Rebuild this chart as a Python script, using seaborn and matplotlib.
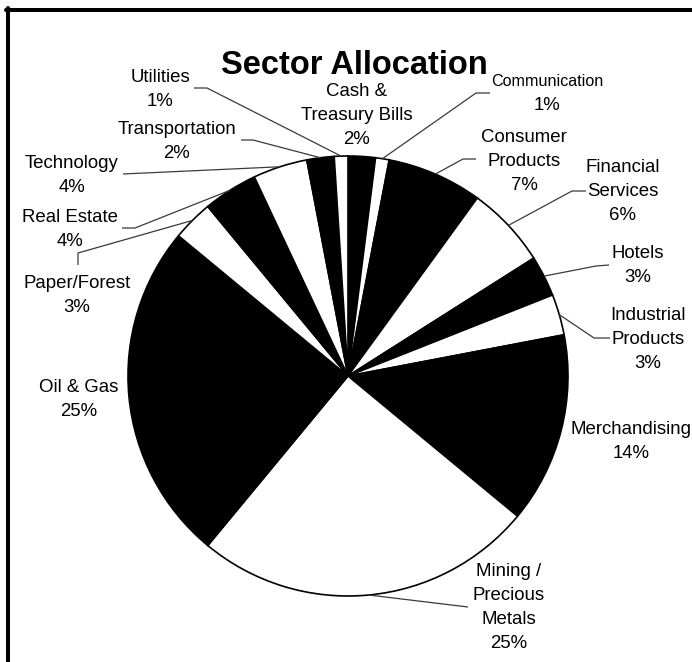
import numpy as np
import matplotlib
matplotlib.use("Agg")
import matplotlib.pyplot as plt
import seaborn as sns
from matplotlib.lines import Line2D

sns.set_style("white")
plt.rcParams['font.family'] = ['Liberation Sans', 'DejaVu Sans']

# ---- data ----
categories = ["Cash &\nTreasury Bills", "Communication", "Consumer\nProducts",
              "Financial\nServices", "Hotels", "Industrial\nProducts",
              "Merchandising", "Mining /\nPrecious\nMetals", "Oil & Gas",
              "Paper/Forest", "Real Estate", "Technology", "Transportation",
              "Utilities"]
values = [2, 1, 7, 6, 3, 3, 14, 25, 25, 3, 4, 4, 2, 1]
title = "Sector Allocation"

# ---- layout (pixel coordinates, origin top-left) ----
W, H = 692, 662
CX, CY, R = 348, 376, 220
LINE_PITCH = 24
label_pos = [(357, 114), (547, 92), (524, 159), (623, 190), (638, 264),
             (648, 338), (631, 439), (509, 605), (79, 397), (77, 293),
             (70, 227), (72, 174), (177, 139), (160, 87)]
name_size = [13.4, 11.6, 13.4, 13.4, 13.4, 13.4, 13.4, 13.4, 13.4, 13.4,
             13.4, 13.4, 13.4, 13.4]
pct_size = 13.4
# leader line: (start, elbow) or None
leaders = [None, ((490, 93), (476, 93)), ((476, 159), (463, 159)),
           ((586, 191), (572, 191)), ((609, 265), (596, 266)),
           ((610, 338), (594, 338)), None, ((468, 607), None), None,
           ((78, 265), (78, 253)), ((122, 228), (135, 228)),
           ((123, 174), None), ((241, 140), (253, 140)), ((194, 88), (207, 88))]

colors = ["black" if i % 2 == 0 else "white" for i in range(len(values))]

fig = plt.figure(figsize=(W / 100, H / 100), dpi=100)
ax = fig.add_axes([0, 0, 1, 1])


def Y(py):
    return H - py


wedges, _ = ax.pie(values, colors=colors, startangle=90, counterclock=False,
                   center=(CX, Y(CY)), radius=R,
                   wedgeprops=dict(edgecolor="black", linewidth=1.2))
ax.set_xlim(0, W)
ax.set_ylim(0, H)
ax.set_aspect("equal")
ax.axis("off")

# labels and leader lines
total = float(sum(values))
cum = 0.0
for i, (cat, v) in enumerate(zip(categories, values)):
    mid = (cum + v / 2) / total * 2 * np.pi
    cum += v
    ex = CX + R * np.sin(mid)
    ey = CY - R * np.cos(mid)
    lx, ly = label_pos[i]
    lines = cat.split("\n") + [f"{v}%"]
    n = len(lines)
    for j, s in enumerate(lines):
        yy = ly + (j - (n - 1) / 2) * LINE_PITCH
        fs = pct_size if j == n - 1 else name_size[i]
        ax.text(lx, Y(yy), s, ha="center", va="center_baseline",
                fontsize=fs, color="black")
    ld = leaders[i]
    if ld is not None:
        pts = [ld[0]] + ([ld[1]] if ld[1] is not None else []) + [(ex, ey)]
        xs = [p[0] for p in pts]
        ys = [Y(p[1]) for p in pts]
        ax.plot(xs, ys, color="#3a3a3a", lw=0.9, solid_capstyle="butt")

ax.text(354, Y(62), title, ha="center", va="center_baseline", fontsize=23.5,
        fontweight="bold", color="black")

# frame lines (top and left)
fig.add_artist(Line2D([6 / W, 1], [1 - 10 / H, 1 - 10 / H], color="black",
                      lw=2.9, transform=fig.transFigure))
fig.add_artist(Line2D([8 / W, 8 / W], [0, 1 - 8 / H], color="black",
                      lw=2.9, transform=fig.transFigure))

fig.savefig("out.png", dpi=100, facecolor="white")
